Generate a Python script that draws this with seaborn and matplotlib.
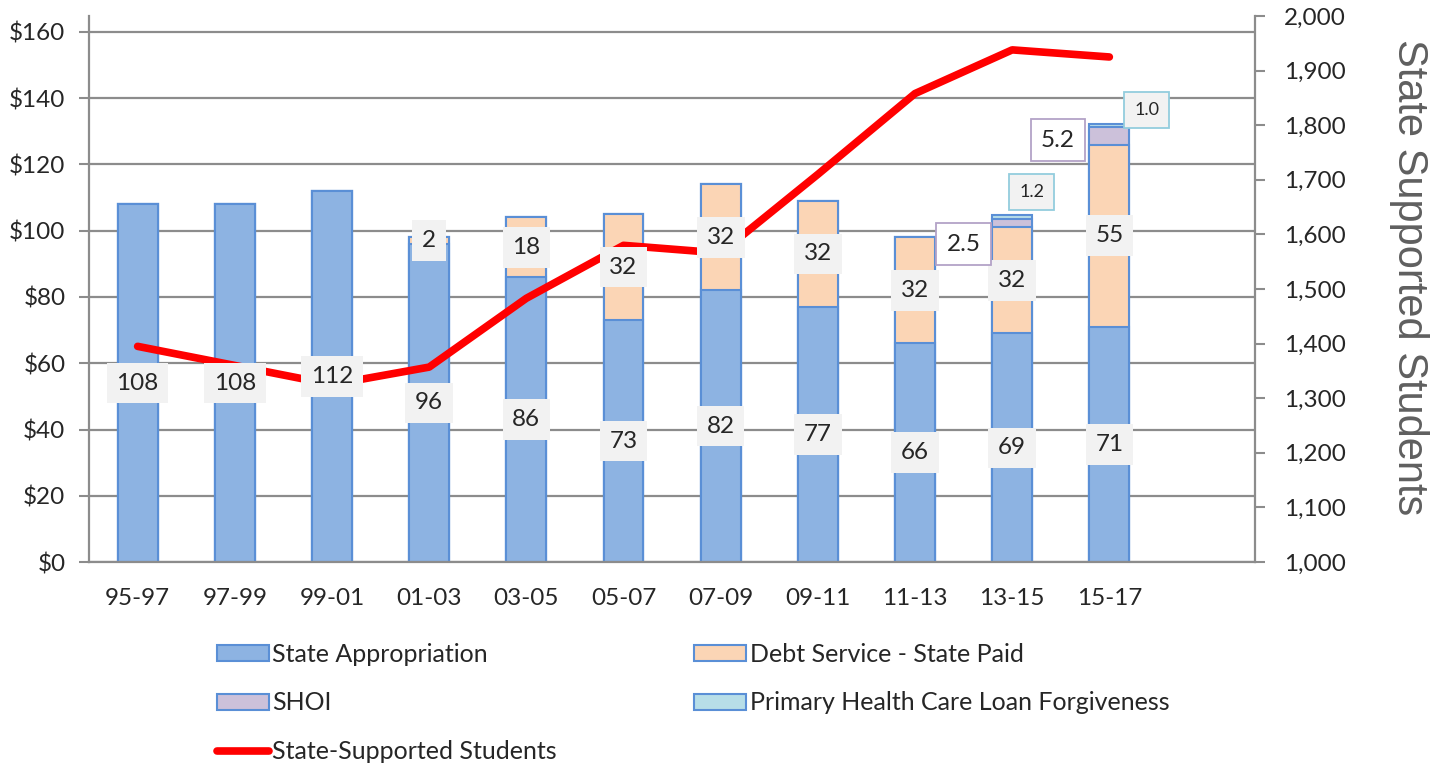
import numpy as np
import pandas as pd
import matplotlib.pyplot as plt
import seaborn as sns
from matplotlib.patches import Patch
from matplotlib.lines import Line2D
from matplotlib.ticker import FuncFormatter, MultipleLocator, FixedLocator

# === DATA ===
biennia = ["95-97", "97-99", "99-01", "01-03", "03-05", "05-07",
           "07-09", "09-11", "11-13", "13-15", "15-17"]
state_appropriation = [108, 108, 112, 96, 86, 73, 82, 77, 66, 69, 71]
debt_service = [0, 0, 0, 2, 18, 32, 32, 32, 32, 32, 55]
shoi = [0, 0, 0, 0, 0, 0, 0, 0, 0, 2.5, 5.2]
loan_forgiveness = [0, 0, 0, 0, 0, 0, 0, 0, 0, 1.2, 1.0]
students = [1395, 1360, 1325, 1357, 1483, 1580, 1566, 1710, 1858, 1938, 1925]

# === STYLE ===
C_APP = "#8DB3E2"
C_DEBT = "#FBD5B5"
C_SHOI = "#CCC1DA"
C_PHC = "#B7DEE8"
EDGE = "#5A8FD6"
GRID = "#8C8C8C"
FONT = ["Lato", "DejaVu Sans"]
FS = 17.5

sns.set_style("white")
plt.rcParams["font.family"] = FONT

df = pd.DataFrame({
    "biennium": biennia,
    "app": state_appropriation,
    "debt": debt_service,
    "shoi": shoi,
    "phc": loan_forgiveness,
})
df["c_app"] = df["app"]
df["c_debt"] = df["c_app"] + df["debt"]
df["c_shoi"] = df["c_debt"] + df["shoi"]
df["c_phc"] = df["c_shoi"] + df["phc"]

fig = plt.figure(figsize=(14.41, 7.63), dpi=100)
ax = fig.add_axes([0.0618, 0.2634, 0.8092, 0.7156])

# stacked bars drawn as overlapping cumulative totals (top layer first)
for col, color in [("c_phc", C_PHC), ("c_shoi", C_SHOI), ("c_debt", C_DEBT), ("c_app", C_APP)]:
    sns.barplot(data=df, x="biennium", y=col, order=biennia, color=color,
                saturation=1, width=0.41, edgecolor=EDGE, linewidth=1.5,
                errorbar=None, ax=ax)

n = len(biennia)
ax.set_xlim(-0.5, n + 0.5)
ax.set_ylim(0, 164.8)
ax.yaxis.set_major_locator(MultipleLocator(20))
ax.yaxis.set_major_formatter(FuncFormatter(lambda v, p: f"${v:.0f}"))
ax.set_xlabel("")
ax.set_ylabel("")
ax.yaxis.grid(True, color=GRID, lw=1.6)
ax.set_axisbelow(True)

ax.xaxis.set_minor_locator(FixedLocator(np.arange(-0.5, n + 1, 1)))
ax.tick_params(axis="x", which="major", length=0, pad=19, labelsize=FS)
ax.tick_params(axis="x", which="minor", length=7, width=1.5, color=GRID, direction="out")
ax.tick_params(axis="y", length=7, width=1.5, color=GRID, direction="out", pad=10, labelsize=FS)

for s in ["top", "right"]:
    ax.spines[s].set_visible(False)
for s in ["left", "bottom"]:
    ax.spines[s].set_color(GRID)
    ax.spines[s].set_linewidth(1.6)

# === students line on right axis ===
ax2 = ax.twinx()
sns.lineplot(x=np.arange(n), y=students, color="#FF0000", lw=5.5,
             solid_capstyle="round", solid_joinstyle="round", ax=ax2)
ax2.set_ylim(1000, 2000)
ax2.yaxis.set_major_locator(MultipleLocator(100))
ax2.yaxis.set_major_formatter(FuncFormatter(lambda v, p: f"{v:,.0f}"))
ax2.tick_params(axis="y", length=7, width=1.5, color=GRID, direction="out", pad=14, labelsize=FS)
for s in ["top", "left", "bottom"]:
    ax2.spines[s].set_visible(False)
ax2.spines["right"].set_color(GRID)
ax2.spines["right"].set_linewidth(1.6)
ax2.set_ylabel("State Supported Students", rotation=270, fontsize=30,
               color="#5F5F5F", family=["Liberation Sans", "DejaVu Sans"], labelpad=60)
ax2.yaxis.label.set_y(0.522)

# === data labels ===
box_grey = dict(boxstyle="square,pad=0.4", fc="#F2F2F2", ec="none")
for i, row in df.iterrows():
    ax2.text(i, row["app"] / 2, f"{row['app']:.0f}", transform=ax.transData,
             ha="center", va="center", fontsize=FS, bbox=box_grey, zorder=5)
    if row["debt"] > 0:
        ax2.text(i, row["c_app"] + row["debt"] / 2, f"{row['debt']:.0f}",
                 transform=ax.transData, ha="center", va="center",
                 fontsize=FS, bbox=box_grey, zorder=5)

shoi_offsets = {9: (-35, -15), 10: (-37, -3)}
phc_offsets = {9: (14, 18), 10: (27, 11)}
for i, (dx, dy) in shoi_offsets.items():
    ax2.annotate(f"{shoi[i]:.1f}", xy=(i, df.loc[i, "c_debt"] + shoi[i] / 2),
                 xycoords=ax.transData, xytext=(dx, dy), textcoords="offset points",
                 ha="center", va="center", fontsize=FS, zorder=5,
                 bbox=dict(boxstyle="square,pad=0.42", fc="white", ec="#B3A2C7", lw=1.3))
for i, (dx, dy) in phc_offsets.items():
    ax2.annotate(f"{loan_forgiveness[i]:.1f}", xy=(i, df.loc[i, "c_shoi"] + loan_forgiveness[i] / 2),
                 xycoords=ax.transData, xytext=(dx, dy), textcoords="offset points",
                 ha="center", va="center", fontsize=13, zorder=5,
                 bbox=dict(boxstyle="square,pad=0.55", fc="#F2F2F2", ec="#93CDDD", lw=1.3))

# === legend ===
handles = [
    Patch(fc=C_APP, ec=EDGE, lw=1.5, label="State Appropriation"),
    Patch(fc=C_SHOI, ec=EDGE, lw=1.5, label="SHOI"),
    Line2D([0], [0], color="#FF0000", lw=5.5, label="State-Supported Students"),
    Patch(fc=C_DEBT, ec=EDGE, lw=1.5, label="Debt Service - State Paid"),
    Patch(fc=C_PHC, ec=EDGE, lw=1.5, label="Primary Health Care Loan Forgiveness"),
]
fig.legend(handles=handles, loc="upper left", bbox_to_anchor=(0.1416, 0.1737),
           ncol=2, frameon=False, fontsize=18, handlelength=2.08, handleheight=0.6,
           handletextpad=0.15, labelspacing=1.02, columnspacing=5.5, borderpad=0)

fig.savefig("out.png", dpi=100)
